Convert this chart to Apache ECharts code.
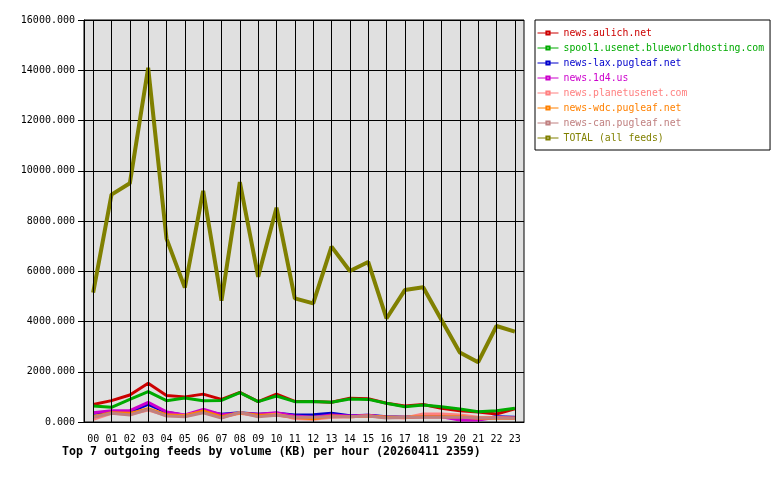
<!DOCTYPE html>
<html>
<head>
<meta charset="utf-8">
<script src="https://cdn.jsdelivr.net/npm/echarts@6/dist/echarts.min.js"></script>
<style>
  html, body { margin: 0; padding: 0; background: #fff; }
  #chart { width: 780px; height: 480px; }
</style>
</head>
<body>
<div id="chart"></div>
<script>
// hours on the x axis
var hours = ['00','01','02','03','04','05','06','07','08','09','10','11',
  '12','13','14','15','16','17','18','19','20','21','22','23']

// KB per hour
var aulich = [700, 850, 1075, 1540, 1050, 1000, 1110, 900, 1180, 810, 1110, 820,
  820, 785, 950, 930, 745, 640, 700, 545, 450, 400, 320, 530]
var spool1 = [640, 585, 900, 1210, 850, 955, 850, 860, 1170, 810, 1035, 810,
  820, 785, 915, 900, 745, 610, 680, 610, 520, 410, 450, 545]
var newsLax = [345, 410, 400, 700, 385, 265, 420, 305, 370, 305, 345, 280,
  290, 345, 250, 265, 210, 185, 240, 240, 105, 105, 210, 185]
var news1d4 = [370, 450, 450, 785, 400, 280, 505, 290, 345, 305, 370, 240,
  185, 280, 240, 265, 185, 185, 210, 210, 80, 80, 185, 160]
var planet = [105, 345, 305, 480, 265, 265, 410, 185, 345, 240, 320, 135,
  105, 185, 210, 240, 185, 160, 320, 320, 280, 185, 170, 150]
var newsWdc = [210, 370, 345, 530, 290, 240, 440, 210, 370, 265, 280, 185,
  130, 240, 210, 240, 185, 185, 210, 210, 210, 150, 150, 150]
var newsCan = [185, 345, 280, 505, 240, 210, 370, 160, 385, 210, 265, 185,
  185, 210, 210, 240, 160, 185, 185, 185, 185, 160, 160, 150]
var total = [5150, 9050, 9500, 14100, 7300, 5350, 9200, 4830, 9550, 5780, 8530, 4920,
  4720, 6980, 6010, 6370, 4120, 5250, 5360, 4060, 2770, 2380, 3820, 3600]

var yTicks = [0, 2000, 4000, 6000, 8000, 10000, 12000, 14000, 16000]

var feeds = [
  { name: 'news.aulich.net', data: aulich, color: '#cc0000' },
  { name: 'spool1.usenet.blueworldhosting.com', data: spool1, color: '#00aa00' },
  { name: 'news-lax.pugleaf.net', data: newsLax, color: '#0000cc' },
  { name: 'news.1d4.us', data: news1d4, color: '#cc00cc' },
  { name: 'news.planetusenet.com', data: planet, color: '#ff8080' },
  { name: 'news-wdc.pugleaf.net', data: newsWdc, color: '#ff8000' },
  { name: 'news-can.pugleaf.net', data: newsCan, color: '#c08080' },
  { name: 'TOTAL (all feeds)', data: total, color: '#808000' }
]

var mono = '"DejaVu Sans Mono", "Liberation Mono", monospace'

var series = feeds.map(function(f) {
  return {
    name: f.name,
    type: 'line',
    z: 3,
    data: f.data,
    symbol: 'emptyRect',
    symbolSize: 4,
    showSymbol: false,
    color: f.color,
    lineStyle: { color: f.color, width: f.name.indexOf('TOTAL') === 0 ? 4 : 3 }
  }
})
// vertical grid lines through every hour (the gd chart draws them at the tick, not between)
series.unshift({
  name: 'hour lines',
  type: 'line',
  z: 1,
  data: hours.map(function() { return null }),
  silent: true,
  markLine: {
    silent: true,
    symbol: 'none',
    label: { show: false },
    lineStyle: { color: '#000', width: 1, type: 'solid' },
    data: hours.map(function(h) { return { xAxis: h } })
  }
})

var chart = echarts.init(document.getElementById('chart'))
chart.setOption({
  animation: false,
  title: {
    text: 'Top 7 outgoing feeds by volume (KB) per hour (20260411 2359)',
    left: 62,
    top: 446,
    padding: 0,
    textStyle: { fontFamily: mono, fontSize: 11.6, fontWeight: 'bold', color: '#000' }
  },
  legend: {
    orient: 'vertical',
    left: 535,
    top: 20,
    padding: [7, 6, 6, 2],
    borderColor: '#000',
    borderWidth: 1,
    backgroundColor: '#fff',
    itemWidth: 21,
    itemHeight: 4,
    itemGap: 3,
    lineStyle: { width: 1 },
    textStyle: { fontFamily: mono, fontSize: 9.8, lineHeight: 12 },
    data: feeds.map(function(f) {
      return { name: f.name, textStyle: { color: f.color } }
    })
  },
  grid: {
    left: 84,
    top: 20,
    width: 440,
    height: 402,
    show: true,
    backgroundColor: '#e0e0e0',
    borderColor: '#000',
    borderWidth: 1
  },
  xAxis: {
    type: 'category',
    data: hours,
    boundaryGap: true,
    axisLine: { lineStyle: { color: '#000', width: 1 } },
    axisTick: { alignWithLabel: true, length: 3, lineStyle: { color: '#000' } },
    axisLabel: { color: '#000', fontFamily: mono, fontSize: 10, margin: 12, interval: 0 },
    splitLine: { show: false }
  },
  yAxis: {
    type: 'value',
    min: yTicks[0],
    max: yTicks[yTicks.length - 1],
    interval: 2000,
    axisLine: { show: true, lineStyle: { color: '#000', width: 1 } },
    axisTick: { show: true, length: 6, lineStyle: { color: '#000' } },
    axisLabel: {
      color: '#000',
      fontFamily: mono,
      fontSize: 10,
      margin: 9,
      formatter: function(v) { return v.toFixed(3) }
    },
    splitLine: { show: true, lineStyle: { color: '#000', width: 1 } }
  },
  series: series
})
</script>
</body>
</html>
